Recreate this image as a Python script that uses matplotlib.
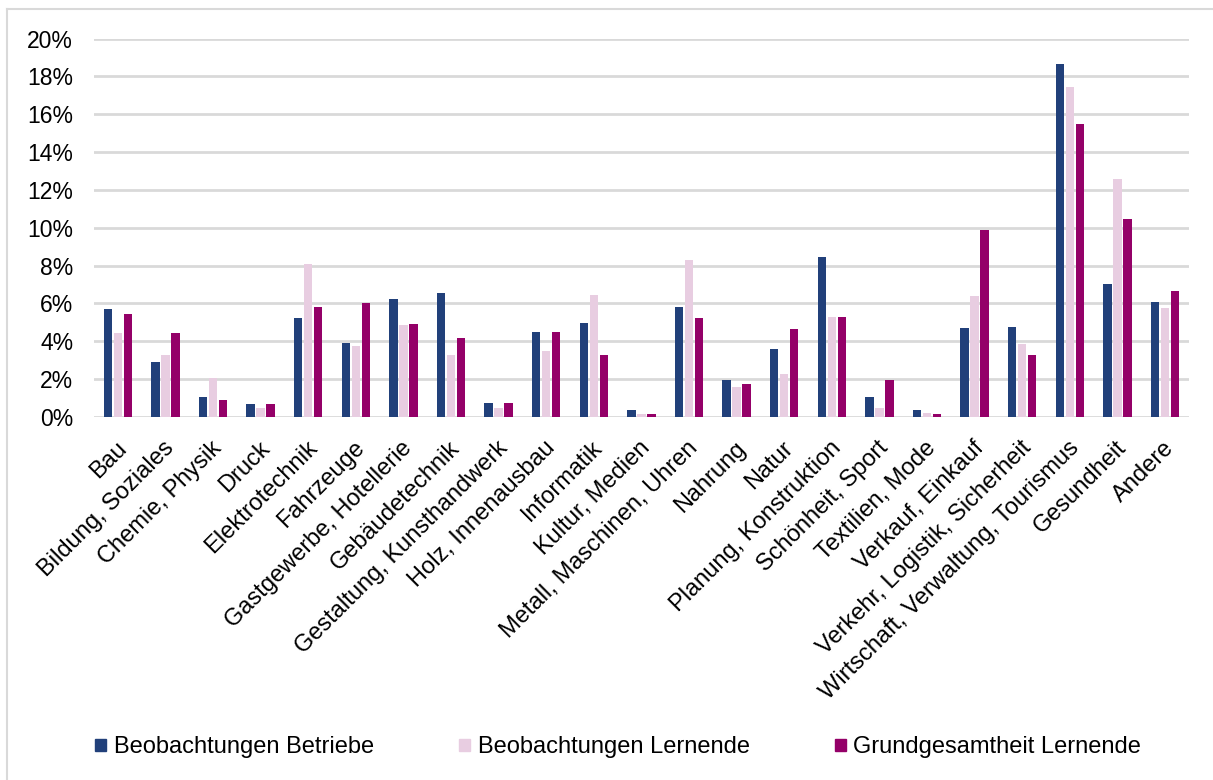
import numpy as np
import matplotlib.pyplot as plt
import matplotlib.transforms as mtransforms
from matplotlib.patches import Rectangle
from matplotlib.lines import Line2D

plt.rcParams['font.family'] = ['Liberation Sans', 'DejaVu Sans']

kategorien = ["Bau", "Bildung, Soziales", "Chemie, Physik", "Druck", "Elektrotechnik",
              "Fahrzeuge", "Gastgewerbe, Hotellerie", "Gebäudetechnik",
              "Gestaltung, Kunsthandwerk", "Holz, Innenausbau", "Informatik",
              "Kultur, Medien", "Metall, Maschinen, Uhren", "Nahrung", "Natur",
              "Planung, Konstruktion", "Schönheit, Sport", "Textilien, Mode",
              "Verkauf, Einkauf", "Verkehr, Logistik, Sicherheit",
              "Wirtschaft, Verwaltung, Tourismus", "Gesundheit", "Andere"]

betriebe = [5.7, 2.9, 1.05, 0.7, 5.25, 3.9, 6.25, 6.55, 0.75, 4.5, 4.95, 0.35,
            5.8, 1.95, 3.6, 8.45, 1.05, 0.35, 4.7, 4.75, 18.65, 7.05, 6.1]
lernende = [4.45, 3.3, 2.05, 0.45, 8.1, 3.75, 4.85, 3.25, 0.5, 3.5, 6.45, 0.15,
            8.3, 1.6, 2.25, 5.3, 0.45, 0.2, 6.4, 3.85, 17.45, 12.6, 5.75]
grundgesamtheit = [5.45, 4.45, 0.9, 0.7, 5.8, 6.05, 4.9, 4.15, 0.75, 4.5, 3.25, 0.15,
                   5.25, 1.75, 4.65, 5.3, 1.95, 0.15, 9.9, 3.25, 15.5, 10.45, 6.65]

serien = ["Beobachtungen Betriebe", "Beobachtungen Lernende", "Grundgesamtheit Lernende"]
farben = ["#21407A", "#E8CDE1", "#940068"]

fig = plt.figure(figsize=(12.13, 7.80), dpi=100)
ax = fig.add_axes([0.0775, 0.4654, 0.9025, 0.4852])

x = np.arange(len(kategorien))
breite = 0.175
for i, (werte, farbe) in enumerate(zip([betriebe, lernende, grundgesamtheit], farben)):
    ax.bar(x + (i - 1) * 0.21, werte, breite, color=farbe, label=serien[i], zorder=3)

ax.set_xlim(-0.5, len(kategorien) - 0.5)
ax.set_ylim(0, 20)
ax.set_yticks(np.arange(0, 21, 2))
ax.set_yticklabels([f"{v}%" for v in range(0, 21, 2)], fontsize=16.5)
ax.yaxis.grid(True, color="#D9D9D9", linewidth=2, zorder=0)
ax.tick_params(axis='y', length=0, pad=15)
ax.tick_params(axis='x', length=0, pad=20)
ax.set_xticks(x)
ax.set_xticklabels(kategorien, rotation=45, ha='right', va='center',
                   rotation_mode='anchor', fontsize=17)
verschiebung = mtransforms.ScaledTranslation(4 / 72, 0, fig.dpi_scale_trans)
for lab in ax.get_xticklabels():
    lab.set_transform(lab.get_transform() + verschiebung)
for s in ax.spines.values():
    s.set_visible(False)

# Rahmen um das Diagramm
fig.add_artist(Line2D([7 / 1213, 7 / 1213], [0, 1 - 9 / 780], transform=fig.transFigure,
                      color="#D9D9D9", linewidth=1.5))
fig.add_artist(Line2D([7 / 1213, 1], [1 - 9 / 780, 1 - 9 / 780], transform=fig.transFigure,
                      color="#D9D9D9", linewidth=1.5))

handles = [Rectangle((0, 0), 1, 1, color=f) for f in farben]
fig.legend(handles, serien, loc='center', bbox_to_anchor=(618 / 1213, 1 - 747 / 780), ncol=3,
           frameon=False, fontsize=17, handlelength=0.5, handleheight=0.4,
           handletextpad=0.3, columnspacing=3.6)

fig.savefig("out.png", dpi=100)
